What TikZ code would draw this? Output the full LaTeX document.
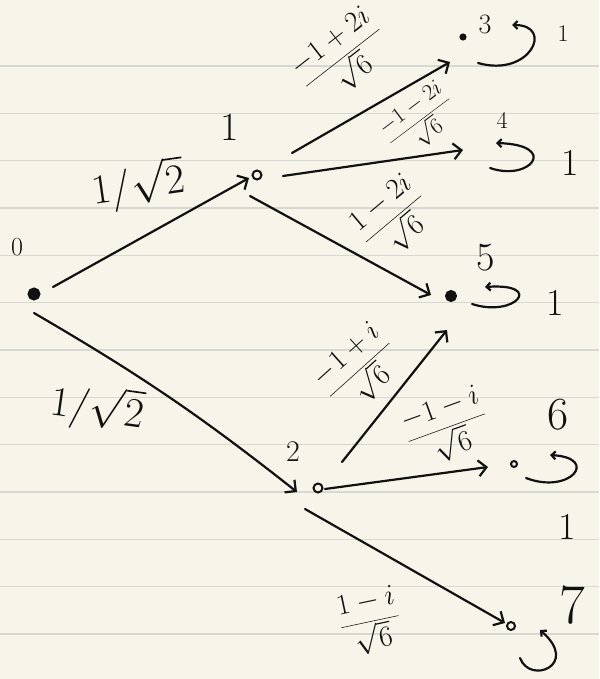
\documentclass[tikz,border=0pt]{standalone}
\usetikzlibrary{arrows.meta,calc}
\definecolor{paper}{HTML}{F7F5EA}
\definecolor{ruling}{HTML}{D8D8D3}
\definecolor{ink}{HTML}{111111}
\begin{document}
\begin{tikzpicture}[x=1pt,y=-1pt,
 dot/.style={circle,draw=ink,line width=2pt,minimum size=9pt,inner sep=0pt},
 fdot/.style={dot,fill=ink},
 arr/.style={draw=ink,-{Straight Barb[length=8pt,width=16pt]},line width=2.2pt,line cap=round},
 loopy/.style={draw=ink,-{Straight Barb[length=4pt,width=8pt]},line width=2.2pt,line cap=round},
 lab/.style={text=ink,font=\fontsize{38}{38}\selectfont,inner sep=0pt},
 amp/.style={text=ink,font=\fontsize{20.74}{24}\selectfont,inner sep=0pt,scale=1.4,transform shape},
]
\fill[paper] (0,0) rectangle (599,679);
\useasboundingbox (0,0) rectangle (599,679);
\foreach \k in {0,...,12} \draw[ruling,line width=1.6pt] (0,{66+47.33*\k}) -- (599,{66+47.33*\k});

% states
\node[fdot,minimum size=11pt] (n0) at (34,294) {};
\node[dot] (n1) at (257,175) {};
\node[dot] (n2) at (318,488) {};
\node[fdot,minimum size=5pt] (n3) at (463,37) {};
\coordinate (n4) at (478,151);
\node[fdot,minimum size=10pt] (n5) at (451,296) {};
\node[dot,minimum size=6pt] (n6) at (514,464) {};
\node[dot,minimum size=8pt] (n7) at (511,626) {};

% state labels
\node[lab,font=\fontsize{26}{26}\selectfont] (t0) at (17,247) {0};
\node[lab,font=\fontsize{40}{40}\selectfont] (t1) at (230,127) {1};
\node[lab,font=\fontsize{30}{30}\selectfont] (t2) at (293,452) {2};
\node[lab,font=\fontsize{28}{28}\selectfont] (t3) at (485,24) {3};
\node[lab,font=\fontsize{24}{24}\selectfont] (t4) at (502,120) {4};
\node[lab,font=\fontsize{40}{40}\selectfont] (t5) at (486,258) {5};
\node[lab,font=\fontsize{46}{46}\selectfont] (t6) at (558,415) {6};
\node[lab,font=\fontsize{56}{56}\selectfont] (t7) at (572,605) {7};

% transitions
\draw[arr] ([shift={(19,-7)}]n0.center) -- ([shift={(-8,3)}]n1.center);
\draw[arr] ([shift={(0,19)}]n0.center) to[bend left=4] ([shift={(-21,4)}]n2.center);
\draw[arr] ([shift={(35,-22)}]n1.center) -- ([shift={(-13,25)}]n3.center);
\draw[arr] ([shift={(26,1)}]n1.center) -- ([shift={(-15,-1)}]n4);
\draw[arr] ([shift={(-7,21)}]n1.center) -- ([shift={(-20,-1)}]n5.center);
\draw[arr] ([shift={(24,-26)}]n2.center) -- ([shift={(-4,34)}]n5.center);
\draw[arr] ([shift={(7,1)}]n2.center) -- ([shift={(-26,3)}]n6.center);
\draw[arr] ([shift={(-13,21)}]n2.center) -- ([shift={(-6,-3)}]n7.center);

% amplitudes
\node[amp,font=\fontsize{24.88}{28}\selectfont,scale=1.2,rotate=8] (a01) at (138,185) {$1/\sqrt{2}$};
\node[amp,font=\fontsize{24.88}{28}\selectfont,scale=1.2,rotate=-8] (a02) at (97,408) {$1/\sqrt{2}$};
\node[amp,rotate=38] (a13) at (343,58) {$\displaystyle\frac{-1+2i}{\sqrt{6}}$};
\node[amp,rotate=37,scale=0.78] (a14) at (420,121) {$\displaystyle\frac{-1-2i}{\sqrt{6}}$};
\node[amp,rotate=40] (a15) at (394,219) {$\displaystyle\frac{1-2i}{\sqrt{6}}$};
\node[amp,rotate=42] (a25) at (360,370) {$\displaystyle\frac{-1+i}{\sqrt{6}}$};
\node[amp,rotate=20] (a26) at (447,428) {$\displaystyle\frac{-1-i}{\sqrt{6}}$};
\node[amp,rotate=12] (a27) at (370,622) {$\displaystyle\frac{1-i}{\sqrt{6}}$};

% self loops
\draw[loopy] ([shift={(15,26)}]n3.center) .. controls ([shift={(67,41)}]n3.center) and ([shift={(92,-12)}]n3.center) .. ([shift={(49,-12)}]n3.center);
\draw[loopy] ([shift={(12,17)}]n4) .. controls ([shift={(52,31)}]n4) and ([shift={(82,-6)}]n4) .. ([shift={(18,-8)}]n4);
\draw[loopy] ([shift={(21,8)}]n5.center) .. controls ([shift={(64,22)}]n5.center) and ([shift={(94,-13)}]n5.center) .. ([shift={(34,-9)}]n5.center);
\draw[loopy] ([shift={(12,14)}]n6.center) .. controls ([shift={(56,31)}]n6.center) and ([shift={(86,-6)}]n6.center) .. ([shift={(36,-9)}]n6.center);
\draw[loopy] ([shift={(9,32)}]n7.center) .. controls ([shift={(19,59)}]n7.center) and ([shift={(69,39)}]n7.center) .. ([shift={(29,4)}]n7.center);

% loop weights
\node[lab,font=\fontsize{24}{24}\selectfont] (w3) at (563,34) {1};
\node[lab] (w4) at (570,163) {1};
\node[lab] (w5) at (555,303) {1};
\node[lab] (w6) at (567,527) {1};
\end{tikzpicture}
\end{document}
